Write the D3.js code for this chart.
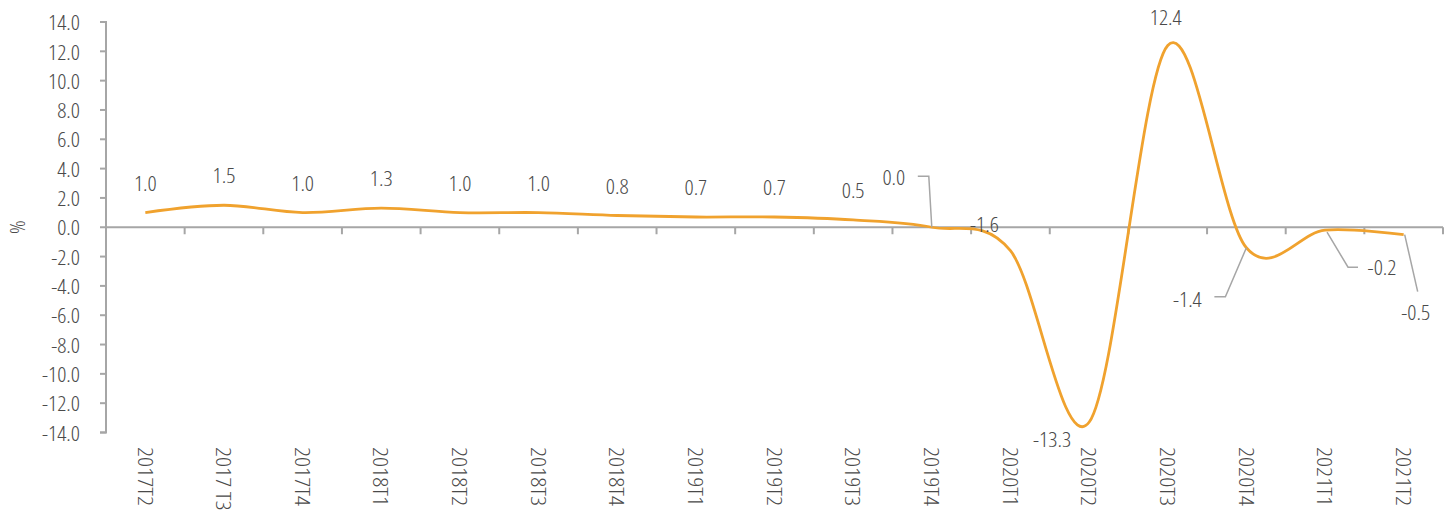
<!DOCTYPE html>
<html>
<head>
<meta charset="utf-8">
<script src="https://cdn.jsdelivr.net/npm/d3@7"></script>
<style>
  html, body { margin: 0; padding: 0; background: #fff; }
  svg { display: block; }
  text { font-family: "Open Sans", "Noto Sans", sans-serif; font-stretch: 87.5%; font-weight: 300; fill: #4a4a4a; }
</style>
</head>
<body>
<svg id="chart" width="1453" height="512"></svg>
<script>
const categories = ["2017T2","2017 T3","2017T4","2018T1","2018T2","2018T3","2018T4","2019T1","2019T2","2019T3","2019T4","2020T1","2020T2","2020T3","2020T4","2021T1","2021T2"];
const values = [1.0, 1.5, 1.0, 1.3, 1.0, 1.0, 0.8, 0.7, 0.7, 0.5, 0.0, -1.6, -13.3, 12.4, -1.4, -0.2, -0.5];
const yTicks = [14, 12, 10, 8, 6, 4, 2, 0, -2, -4, -6, -8, -10, -12, -14];
const yTitle = "%";

const svg = d3.select("#chart");
const axisColor = "#a6a6a6";
const lineColor = "#f0a22e";
const FS = 21;

// measure the font so text widths match the narrow reference face
function fit(str, target, fs) {
  const p = svg.append("text").style("font-size", fs + "px").text(str);
  const w = p.node().getComputedTextLength();
  p.remove();
  return Math.max(0.7, Math.min(1.3, target / w));
}
const k = fit("14.0", 32, FS);
const kx = fit("2017T2", 59, FS);

const x = d3.scaleBand().domain(categories).range([106, 1443]).padding(0);
const y = d3.scaleLinear().domain([-14, 14]).range([432.5, 22]);
const cx = c => x(c) + x.bandwidth() / 2;

// Y axis
const gy = svg.append("g");
gy.append("path").attr("d", `M100,${y(14)}H106V${y(-14)}H100`).attr("fill", "none")
  .attr("stroke", axisColor).attr("stroke-width", 2);
gy.selectAll("line").data(yTicks).join("line")
  .attr("x1", 100).attr("x2", 106).attr("y1", d => y(d)).attr("y2", d => y(d))
  .attr("stroke", axisColor).attr("stroke-width", 2);
gy.selectAll("text").data(yTicks).join("text")
  .attr("transform", d => `translate(80,${y(d)}) scale(${k},1)`)
  .attr("text-anchor", "end").attr("dominant-baseline", "central")
  .style("font-size", FS + "px")
  .text(d => (d < 0 ? "-" : "") + Math.abs(d).toFixed(1));

// X axis at zero
const boundaries = categories.map(c => x(c) + x.bandwidth());
const gx = svg.append("g");
gx.append("line").attr("x1", 106).attr("x2", 1443).attr("y1", y(0)).attr("y2", y(0))
  .attr("stroke", axisColor).attr("stroke-width", 2);
gx.selectAll("line.tk").data(boundaries).join("line").attr("class", "tk")
  .attr("x1", d => d).attr("x2", d => d).attr("y1", y(0)).attr("y2", y(0) + 7)
  .attr("stroke", axisColor).attr("stroke-width", 2);
gx.selectAll("text.xl").data(categories).join("text").attr("class", "xl")
  .attr("transform", d => `translate(${cx(d)},447) rotate(90) scale(${kx},1)`)
  .attr("dominant-baseline", "central")
  .attr("text-anchor", "start")
  .style("font-size", FS + "px")
  .text(d => d);

// Y title
svg.append("text").attr("transform", `translate(17,${y(0)}) rotate(-90) scale(${k},1)`)
  .attr("text-anchor", "middle").attr("dominant-baseline", "central")
  .style("font-size", FS + "px").text(yTitle);

// Line
const line = d3.line().x((d, i) => cx(categories[i])).y(d => y(d)).curve(d3.curveCardinal.tension(0));
svg.append("path").datum(values).attr("d", line)
  .attr("fill", "none").attr("stroke", lineColor).attr("stroke-width", 2.8);

// Data labels
const special = {
  "2019T4": { dx: -38, dy: -50, leader: [[-14, -51], [-3, -51], [0, 0]] },
  "2020T1": { dx: -26, dy: -27 },
  "2020T2": { dx: -37, dy: 17 },
  "2020T3": { dx: -2, dy: -29 },
  "2020T4": { dx: -59, dy: 51, leader: [[-32, 49], [-21, 49], [0, 0]] },
  "2021T1": { dx: 57, dy: 37, leader: [[33, 37], [23, 37], [2, 2]] },
  "2021T2": { dx: 12, dy: 77, leader: [[14, 57], [1, 0]] }
};
const fmt = v => (v < 0 ? "-" : "") + Math.abs(v).toFixed(1);
const lbl = svg.append("g");
categories.forEach((c, i) => {
  const px = cx(c), py = y(values[i]);
  const s = special[c] || { dx: 0, dy: -30 };
  if (s.leader) {
    lbl.append("path").attr("d", d3.line()(s.leader.map(p => [px + p[0], py + p[1]])))
      .attr("fill", "none").attr("stroke", "#a6a6a6").attr("stroke-width", 1.5);
  }
  lbl.append("text").attr("transform", `translate(${px + s.dx},${py + s.dy}) scale(${k},1)`)
    .attr("text-anchor", "middle").attr("dominant-baseline", "central")
    .style("font-size", FS + "px").text(fmt(values[i]));
});
</script>
</body>
</html>
